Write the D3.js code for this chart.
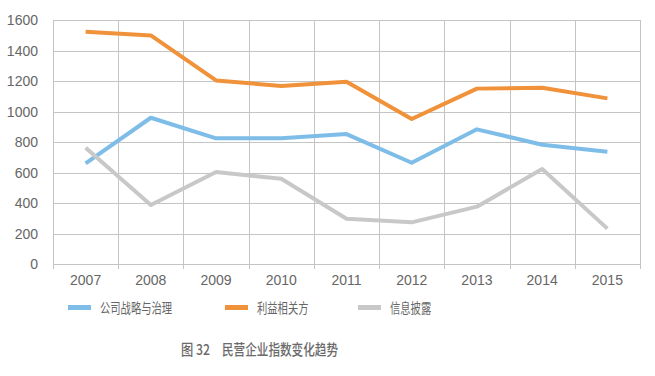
<!DOCTYPE html>
<html>
<head>
<meta charset="utf-8">
<script src="https://cdn.jsdelivr.net/npm/d3@7"></script>
<style>
  body { margin: 0; background: #fff; }
  text { font-family: "Liberation Sans", Arial, sans-serif; }
</style>
</head>
<body>
<div id="chart"></div>
<script>
// data
var years = ["2007", "2008", "2009", "2010", "2011", "2012", "2013", "2014", "2015"];
var strategy = [660, 959, 824, 824, 852, 664, 883, 782, 736];
var stakeholders = [1523, 1499, 1204, 1167, 1195, 951, 1150, 1156, 1086];
var disclosure = [763, 387, 603, 559, 297, 273, 376, 623, 232];
var yTicks = [0, 200, 400, 600, 800, 1000, 1200, 1400, 1600];
var seriesNames = ["公司战略与治理", "利益相关方", "信息披露"];
var seriesColors = ["#7dbde8", "#f0923a", "#c8c8c8"];

var width = 655, height = 376;
var padding = {top: 20, right: 15, bottom: 112, left: 53};

var svg = d3.select("#chart").append("svg")
  .attr("width", width)
  .attr("height", height);

var xScale = d3.scaleBand()
  .domain(years)
  .range([padding.left, width - padding.right]);

var yScale = d3.scaleLinear()
  .domain([0, 1600])
  .range([height - padding.bottom, padding.top]);

// horizontal grid
svg.append("g")
  .selectAll("line")
  .data(yTicks)
  .enter().append("line")
  .attr("x1", padding.left)
  .attr("x2", width - padding.right)
  .attr("y1", function(d) { return Math.round(yScale(d)) + 0.5; })
  .attr("y2", function(d) { return Math.round(yScale(d)) + 0.5; })
  .attr("stroke", "#c4c4c4")
  .attr("stroke-width", 1);

// vertical grid on band edges, with little ticks below
var edges = years.map(function(y) { return xScale(y); });
edges.push(width - padding.right);
svg.append("g")
  .selectAll("line")
  .data(edges)
  .enter().append("line")
  .attr("x1", function(d) { return Math.round(d) + 0.5; })
  .attr("x2", function(d) { return Math.round(d) + 0.5; })
  .attr("y1", padding.top)
  .attr("y2", height - padding.bottom + 5)
  .attr("stroke", "#c4c4c4")
  .attr("stroke-width", 1);

// y labels
svg.append("g")
  .selectAll("text")
  .data(yTicks)
  .enter().append("text")
  .attr("x", 38)
  .attr("y", function(d) { return yScale(d) + 5; })
  .attr("text-anchor", "end")
  .attr("font-size", 14)
  .attr("fill", "#666")
  .text(function(d) { return d; });

// x labels
svg.append("g")
  .selectAll("text")
  .data(years)
  .enter().append("text")
  .attr("x", function(d) { return xScale(d) + xScale.bandwidth() / 2; })
  .attr("y", 285)
  .attr("text-anchor", "middle")
  .attr("font-size", 14)
  .attr("fill", "#666")
  .text(function(d) { return d; });

// lines
var line = d3.line()
  .x(function(d, i) { return xScale(years[i]) + xScale.bandwidth() / 2; })
  .y(function(d) { return yScale(d); });

[strategy, stakeholders, disclosure].forEach(function(vals, k) {
  svg.append("path")
    .datum(vals)
    .attr("d", line)
    .attr("fill", "none")
    .attr("stroke", seriesColors[k])
    .attr("stroke-width", 4)
    .attr("stroke-linejoin", "round");
});

// legend (condensed font in the original, so squeeze the text)
var legendX = [68, 225, 358];
var legend = svg.append("g");
seriesNames.forEach(function(name, k) {
  legend.append("rect")
    .attr("x", legendX[k])
    .attr("y", 305)
    .attr("width", 23)
    .attr("height", 5)
    .attr("fill", seriesColors[k]);
  legend.append("text")
    .attr("x", legendX[k] + 32)
    .attr("y", 312.5)
    .attr("font-size", 13.5)
    .attr("fill", "#666")
    .attr("textLength", name.length * 10.3)
    .attr("lengthAdjust", "spacingAndGlyphs")
    .style("font-family", "'Noto Sans CJK SC', sans-serif")
    .text(name);
});

// caption
svg.append("text")
  .attr("x", 181)
  .attr("y", 355)
  .attr("font-size", 15)
  .attr("font-weight", 500)
  .attr("fill", "#6a6a6a")
  .attr("textLength", 29)
  .attr("lengthAdjust", "spacingAndGlyphs")
  .style("font-family", "'Noto Sans CJK SC', sans-serif")
  .text("图 32");
svg.append("text")
  .attr("x", 222)
  .attr("y", 355)
  .attr("font-size", 15)
  .attr("font-weight", 500)
  .attr("fill", "#6a6a6a")
  .attr("textLength", 116)
  .attr("lengthAdjust", "spacingAndGlyphs")
  .style("font-family", "'Noto Sans CJK SC', sans-serif")
  .text("民营企业指数变化趋势");
</script>
</body>
</html>
